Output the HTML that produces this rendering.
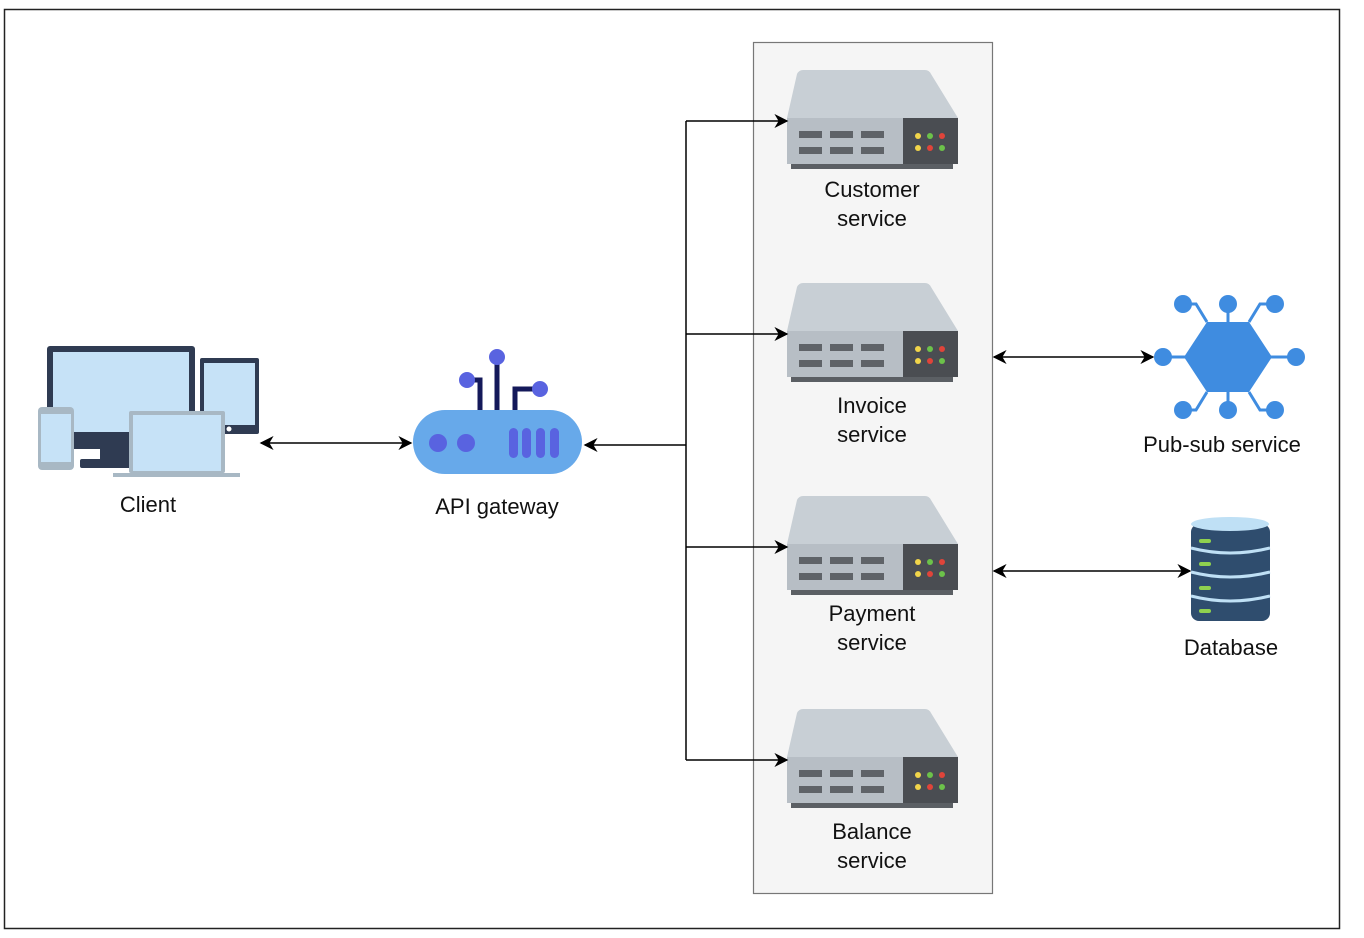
<!DOCTYPE html>
<html><head><style>body{margin:0;background:#fff}svg{display:block}text{font-family:"Liberation Sans",sans-serif;font-size:22px;fill:#111;text-anchor:middle}</style></head><body>
<svg width="1364" height="938" viewBox="0 0 1364 938">
<defs>
<marker id="a" viewBox="0 0 10 10" refX="9" refY="5" markerWidth="14" markerHeight="14" markerUnits="userSpaceOnUse" orient="auto-start-reverse"><path d="M0,0 L10,5 L0,10 L3,5z" fill="#000"/></marker>
<g id="srv">
<path d="M16,0 H138 Q142,0 144,4 L171,48 H0 L10,4 Q12,0 16,0z" fill="#c8cfd5"/>
<rect x="0" y="48" width="117" height="46" fill="#b7bec5"/>
<rect x="116" y="48" width="55" height="46" fill="#4a4d52"/>
<rect x="4" y="94" width="162" height="5" fill="#5b5f64"/>
<g fill="#5f6368"><rect x="12" y="61" width="23" height="7"/><rect x="43" y="61" width="23" height="7"/><rect x="74" y="61" width="23" height="7"/><rect x="12" y="77" width="23" height="7"/><rect x="43" y="77" width="23" height="7"/><rect x="74" y="77" width="23" height="7"/></g>
<circle cx="131" cy="66" r="3" fill="#f1d54a"/><circle cx="143" cy="66" r="3" fill="#6cc24a"/><circle cx="155" cy="66" r="3" fill="#e0443a"/>
<circle cx="131" cy="78" r="3" fill="#f1d54a"/><circle cx="143" cy="78" r="3" fill="#e0443a"/><circle cx="155" cy="78" r="3" fill="#6cc24a"/>
</g>
</defs>
<rect x="4.5" y="9.5" width="1335" height="919" fill="#fff" stroke="#222" stroke-width="1.5"/>
<rect x="753.5" y="42.5" width="239" height="851" fill="#f5f5f5" stroke="#777" stroke-width="1.2"/>
<use href="#srv" x="787" y="70"/><use href="#srv" x="787" y="283"/><use href="#srv" x="787" y="496"/><use href="#srv" x="787" y="709"/>
<text x="872" y="197">Customer</text><text x="872" y="226">service</text>
<text x="872" y="413">Invoice</text><text x="872" y="442">service</text>
<text x="872" y="621">Payment</text><text x="872" y="650">service</text>
<text x="872" y="839">Balance</text><text x="872" y="868">service</text>
<g stroke="#000" stroke-width="1.5" fill="none">
<path d="M686,121 V760"/>
<path d="M686,121 H787" marker-end="url(#a)"/><path d="M686,334 H787" marker-end="url(#a)"/><path d="M686,547 H787" marker-end="url(#a)"/><path d="M686,760 H787" marker-end="url(#a)"/>
<path d="M686,445 H585" marker-end="url(#a)"/>
<path d="M261,443 H411" marker-start="url(#a)" marker-end="url(#a)"/>
<path d="M994,357 H1153" marker-start="url(#a)" marker-end="url(#a)"/>
<path d="M994,571 H1190" marker-start="url(#a)" marker-end="url(#a)"/>
</g>
<!-- client -->
<rect x="47" y="346" width="148" height="103" rx="3" fill="#2f3b52"/>
<rect x="53" y="352" width="136" height="80" fill="#c6e2f7"/>
<rect x="100" y="449" width="34" height="12" fill="#2f3b52"/><rect x="80" y="459" width="80" height="9" rx="2" fill="#2f3b52"/>
<rect x="200" y="358" width="59" height="76" rx="2" fill="#2f3b52"/><rect x="204" y="363" width="51" height="62" fill="#c6e2f7"/><circle cx="229" cy="429" r="2.5" fill="#fff"/>
<rect x="38" y="407" width="36" height="63" rx="4" fill="#a8b8c4"/><rect x="41" y="414" width="30" height="48" fill="#c6e2f7"/>
<rect x="129" y="411" width="96" height="62" rx="2" fill="#a8b8c4"/><rect x="133" y="415" width="88" height="56" fill="#c6e2f7"/>
<rect x="113" y="473" width="127" height="4" fill="#a8b8c4"/>
<text x="148" y="512">Client</text>
<!-- api gateway -->
<g stroke="#14195a" stroke-width="5" fill="none"><path d="M497,357 V412"/><path d="M467,380 H480 V412"/><path d="M540,389 H515 V412"/></g>
<circle cx="497" cy="357" r="8" fill="#5963e0"/><circle cx="467" cy="380" r="8" fill="#5963e0"/><circle cx="540" cy="389" r="8" fill="#5963e0"/>
<rect x="413" y="410" width="169" height="64" rx="32" fill="#67a9ea"/>
<circle cx="438" cy="443" r="9" fill="#5963e0"/><circle cx="466" cy="443" r="9" fill="#5963e0"/>
<g fill="#5963e0"><rect x="509" y="428" width="9" height="30" rx="4.5"/><rect x="522" y="428" width="9" height="30" rx="4.5"/><rect x="536" y="428" width="9" height="30" rx="4.5"/><rect x="550" y="428" width="9" height="30" rx="4.5"/></g>
<text x="497" y="514">API gateway</text>
<!-- pub-sub -->
<g stroke="#3f8ce0" stroke-width="3" fill="none"><path d="M1163,357 H1296"/><path d="M1183,304 H1196 L1207,322"/><path d="M1228,304 V322"/><path d="M1275,304 H1260 L1249,322"/><path d="M1183,410 H1196 L1207,392"/><path d="M1228,410 V392"/><path d="M1275,410 H1260 L1249,392"/></g>
<path d="M1207,322 H1249 L1272,357 L1249,392 H1207 L1184,357z" fill="#3f8ce0"/>
<g fill="#3f8ce0"><circle cx="1183" cy="304" r="9"/><circle cx="1228" cy="304" r="9"/><circle cx="1275" cy="304" r="9"/><circle cx="1163" cy="357" r="9"/><circle cx="1296" cy="357" r="9"/><circle cx="1183" cy="410" r="9"/><circle cx="1228" cy="410" r="9"/><circle cx="1275" cy="410" r="9"/></g>
<text x="1222" y="452">Pub-sub service</text>
<!-- database -->
<rect x="1191" y="524" width="79" height="97" rx="8" fill="#2f4d6e"/>
<ellipse cx="1230" cy="524" rx="39" ry="7" fill="#bfe0f5"/>
<g stroke="#bfe0f5" stroke-width="3" fill="none"><path d="M1191,548 Q1230,558 1270,548"/><path d="M1191,572 Q1230,582 1270,572"/><path d="M1191,596 Q1230,606 1270,596"/></g>
<g fill="#8fd14f"><rect x="1199" y="539" width="12" height="4" rx="2"/><rect x="1199" y="562" width="12" height="4" rx="2"/><rect x="1199" y="586" width="12" height="4" rx="2"/><rect x="1199" y="609" width="12" height="4" rx="2"/></g>
<text x="1231" y="655">Database</text>
</svg>
</body></html>
